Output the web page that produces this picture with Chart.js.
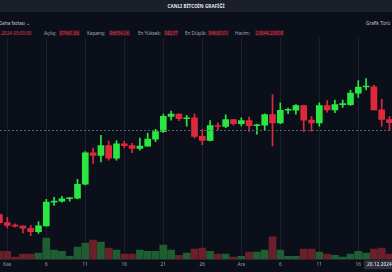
<!DOCTYPE html>
<html><head><meta charset="utf-8">
<script src="https://cdn.jsdelivr.net/npm/chart.js@4.4.1/dist/chart.umd.min.js"></script>
<style>
html,body{margin:0;padding:0;width:392px;height:272px;overflow:hidden;background:#0b0f1a;font-family:"Noto Sans",Roboto,sans-serif;}
#topbar{position:absolute;left:0;top:0;width:392px;height:12px;background:#1a1f2a;}
#title{position:absolute;left:0;top:0;width:392px;height:12px;line-height:12px;text-align:center;color:#e6e8ec;font-weight:bold;font-size:4.6px;letter-spacing:0.1px;}
.t{position:absolute;white-space:nowrap;font-size:4.6px;line-height:6px;}
.lab{color:#a8adb6;}
.val{color:#e8374a;background:#2a1420;padding:0 0.5px;}
#wrap{position:absolute;left:0;top:38px;width:392px;height:234px;}
</style></head>
<body>
<div id="topbar"></div>
<div id="title">CANLI BİTCOİN GRAFİĞİ</div>
<div class="t lab" style="left:-1px;top:20px;color:#c9ccd2">Daha fazlası ⌄</div>
<div class="t lab" style="left:366px;top:20px;color:#c9ccd2">Grafik Türü</div>
<div class="t val" style="left:-12px;top:30px;background:none">20.12.2024 03:00:00</div>
<div class="t lab" style="left:44px;top:30px">Açılış:</div>
<div class="t val" style="left:59px;top:30px">97461.86</div>
<div class="t lab" style="left:87px;top:30px">Kapanış:</div>
<div class="t val" style="left:109px;top:30px">96654.06</div>
<div class="t lab" style="left:138px;top:30px">En Yüksek:</div>
<div class="t val" style="left:164px;top:30px">98237</div>
<div class="t lab" style="left:185px;top:30px">En Düşük:</div>
<div class="t val" style="left:208px;top:30px">94600.01</div>
<div class="t lab" style="left:235px;top:30px">Hacim:</div>
<div class="t val" style="left:255px;top:30px">23944.20808</div>
<div id="wrap"><canvas id="c" width="392" height="234"></canvas></div>
<script>
const dates = ['2024-10-31',
 '2024-11-01','2024-11-02','2024-11-03','2024-11-04','2024-11-05','2024-11-06','2024-11-07','2024-11-08','2024-11-09','2024-11-10',
 '2024-11-11','2024-11-12','2024-11-13','2024-11-14','2024-11-15','2024-11-16','2024-11-17','2024-11-18','2024-11-19','2024-11-20',
 '2024-11-21','2024-11-22','2024-11-23','2024-11-24','2024-11-25','2024-11-26','2024-11-27','2024-11-28','2024-11-29','2024-11-30',
 '2024-12-01','2024-12-02','2024-12-03','2024-12-04','2024-12-05','2024-12-06','2024-12-07','2024-12-08','2024-12-09','2024-12-10',
 '2024-12-11','2024-12-12','2024-12-13','2024-12-14','2024-12-15','2024-12-16','2024-12-17','2024-12-18','2024-12-19','2024-12-20'];
const openP = [72330,
 70220,69480,69300,68740,67810,69360,75640,75900,76540,76680,
 80370,88700,87960,90600,87250,91070,90560,89850,90460,92310,
 94290,98320,98890,97670,97900,93010,91970,95860,95640,97460,
 96410,97190,95840,96000,98770,96590,99920,99920,101170,97320,
 96590,101130,100000,101420,101420,104460,106060,106140,100040,97461.86];
const highP = [72700,
 71600,69900,69400,69500,70500,76400,76900,77200,76900,81640,
 89000,89900,93300,91800,91900,91700,91200,92600,93900,94900,
 98900,99700,99000,98600,98900,94900,97200,96600,98700,97500,
 97900,98100,96300,99000,104000,101900,100500,101400,101300,98300,
 101900,102500,102600,102600,105200,107800,108300,106500,102800,98237];
const lowP = [69700,
 68800,69000,67500,66800,67400,69300,74800,75600,75900,76500,
 80200,85900,86300,86700,86700,90000,88700,89400,90400,91600,
 94100,97300,97200,95700,92600,90800,91800,94700,95300,96000,
 95800,94300,93600,94700,90500,96400,99000,98900,94300,94400,
 95700,99400,99300,100700,101200,103300,105300,100000,95700,94600.01];
const closeP = [70220,
 69480,69300,68740,67810,69360,75640,75900,76540,76680,80370,
 88700,87960,90600,87250,91070,90560,89850,90460,92310,94290,
 98320,98890,97670,97900,93010,91970,95860,95640,97460,96410,
 97190,95840,96000,98770,96590,99920,99920,101170,97320,96590,
 101130,100000,101420,101420,104460,106060,106140,100040,97490,96654.06];
const volumes = [38000,
 38000,10000,24000,24000,29000,100000,43000,38000,14000,58000,
 77000,91000,82000,53000,43000,24000,24000,43000,38000,38000,
 67000,43000,19000,29000,48000,53000,38000,24000,24000,10000,
 14000,34000,34000,43000,106000,43000,14000,14000,48000,48000,
 34000,24000,19000,10000,24000,38000,29000,48000,53000,23944.20808];
const tickDates = ['2024-11-01','2024-11-06','2024-11-11','2024-11-16','2024-11-21','2024-11-26','2024-12-01','2024-12-06','2024-12-11','2024-12-16'];
const tickLabels = ['Kas','6','11','16','21','26','Ara','6','11','16'];
const crossDate = '2024-12-20';
const crossLabel = '20.12.2024 03:00:00';
const crossPrice = 94700;

const UP = '#2ae640', DOWN = '#e0283c';
const VUP = '#1f5e31', VDOWN = '#6b1f2b';
const isUp = i => closeP[i] >= openP[i];

const crosshair = {
  id: 'crosshair',
  afterDatasetsDraw(chart) {
    const {ctx, chartArea, scales} = chart;
    const y = Math.round(scales.y.getPixelForValue(crossPrice)) + 0.5;
    ctx.save();
    ctx.strokeStyle = '#5a606c';
    ctx.lineWidth = 1;
    ctx.setLineDash([2, 2]);
    ctx.beginPath();
    ctx.moveTo(chartArea.left, y);
    ctx.lineTo(chartArea.right, y);
    ctx.stroke();
    ctx.restore();
  },
  afterDraw(chart) {
    const {ctx, chartArea, scales} = chart;
    const x = scales.x.getPixelForValue(dates.indexOf(crossDate));
    ctx.save();
    ctx.font = '4.8px "Noto Sans", Roboto, sans-serif';
    const w = ctx.measureText(crossLabel).width + 6;
    ctx.fillStyle = '#2a2f3b';
    ctx.fillRect(x - w / 2, chartArea.bottom + 1, w, 9);
    ctx.fillStyle = '#eceef2';
    ctx.textAlign = 'center';
    ctx.textBaseline = 'middle';
    ctx.fillText(crossLabel, x, chartArea.bottom + 5.8);
    ctx.restore();
  }
};

new Chart(document.getElementById('c'), {
  type: 'bar',
  data: {
    datasets: [
      {
        label: 'gövde',
        data: dates.map((d, i) => ({x: i, y: [openP[i], closeP[i]]})),
        backgroundColor: dates.map((d, i) => isUp(i) ? UP : DOWN),
        barThickness: 6, minBarLength: 1,
        grouped: false, yAxisID: 'y', order: 1
      },
      {
        label: 'fitil',
        data: dates.map((d, i) => ({x: i, y: [lowP[i], highP[i]]})),
        backgroundColor: dates.map((d, i) => isUp(i) ? UP : DOWN),
        barThickness: 1, grouped: false, yAxisID: 'y', order: 2
      },
      {
        label: 'hacim',
        data: dates.map((d, i) => ({x: i, y: volumes[i]})),
        backgroundColor: dates.map((d, i) => isUp(i) ? VUP : VDOWN),
        barThickness: 7,
        grouped: false, yAxisID: 'yv', order: 3
      }
    ]
  },
  options: {
    responsive: false,
    animation: false,
    events: [],
    layout: {padding: {left: 0, right: 0, top: 0, bottom: 1}},
    plugins: {legend: {display: false}, tooltip: {enabled: false}},
    scales: {
      x: {
        type: 'linear', min: 0.064, max: 50.32, offset: false,
        afterBuildTicks: (axis) => { axis.ticks = tickDates.map(d => ({value: dates.indexOf(d)})); },
        ticks: {
          autoSkip: false, maxRotation: 0, padding: 3, color: '#9ba1ab',
          font: {size: 4.8, family: '"Noto Sans", Roboto, sans-serif'},
          callback: (v) => tickLabels[tickDates.indexOf(dates[v])]
        },
        grid: {color: '#1a2030', drawTicks: false, offset: false},
        border: {display: true, color: '#2a2030'}
      },
      y: {
        display: false, min: 60549, max: 119022
      },
      yv: {
        display: false, min: 0, max: 1051200
      }
    }
  },
  plugins: [crosshair]
});
</script>
</body></html>
